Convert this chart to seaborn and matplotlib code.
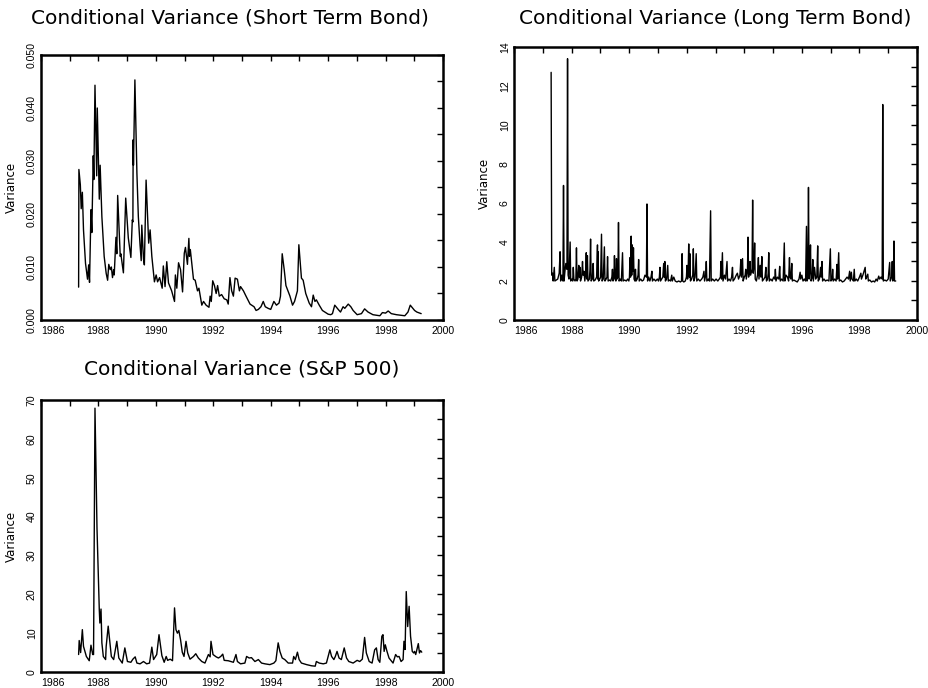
import matplotlib
matplotlib.use("Agg")
import matplotlib.pyplot as plt
from matplotlib.ticker import MultipleLocator, FormatStrFormatter
import seaborn as sns
import pandas as pd

# ---------------- data ----------------
st_years = [
    1987.31, 1987.32, 1987.37, 1987.40, 1987.44, 1987.48, 1987.55, 1987.62, 1987.66, 1987.69,
    1987.74, 1987.77, 1987.82, 1987.84, 1987.88, 1987.94, 1987.96, 1988.03, 1988.06, 1988.12,
    1988.20, 1988.27, 1988.32, 1988.36, 1988.41, 1988.45, 1988.49, 1988.53, 1988.55, 1988.61,
    1988.64, 1988.67, 1988.76, 1988.78, 1988.87, 1988.95, 1989.04, 1989.13, 1989.18, 1989.20,
    1989.21, 1989.22, 1989.27, 1989.34, 1989.39, 1989.45, 1989.49, 1989.51, 1989.57, 1989.60,
    1989.66, 1989.75, 1989.80, 1989.86, 1989.95, 1990.01, 1990.06, 1990.13, 1990.22, 1990.26,
    1990.32, 1990.38, 1990.44, 1990.55, 1990.65, 1990.68, 1990.73, 1990.79, 1990.86, 1990.93,
    1990.99, 1991.03, 1991.10, 1991.15, 1991.17, 1991.20, 1991.31, 1991.37, 1991.45, 1991.50,
    1991.60, 1991.66, 1991.75, 1991.85, 1991.89, 1991.93, 1991.98, 1992.04, 1992.10, 1992.15,
    1992.21, 1992.29, 1992.38, 1992.47, 1992.52, 1992.58, 1992.64, 1992.70, 1992.76, 1992.84,
    1992.91, 1992.95, 1993.05, 1993.14, 1993.28, 1993.42, 1993.49, 1993.57, 1993.66, 1993.74,
    1993.81, 1993.91, 1994.00, 1994.11, 1994.20, 1994.29, 1994.34, 1994.40, 1994.47, 1994.53,
    1994.60, 1994.67, 1994.76, 1994.83, 1994.88, 1994.93, 1994.98, 1995.07, 1995.13, 1995.22,
    1995.34, 1995.42, 1995.48, 1995.54, 1995.59, 1995.69, 1995.80, 1996.00, 1996.09, 1996.15,
    1996.23, 1996.35, 1996.43, 1996.52, 1996.58, 1996.70, 1996.79, 1996.87, 1997.01, 1997.16,
    1997.27, 1997.39, 1997.56, 1997.80, 1997.89, 1998.00, 1998.09, 1998.20, 1998.38, 1998.67,
    1998.78, 1998.86, 1999.01, 1999.09, 1999.24,
]
st_values = [
    0.0062, 0.0284, 0.0255, 0.0210, 0.0241, 0.0170, 0.0107, 0.0077, 0.0104, 0.0071,
    0.0208, 0.0165, 0.0310, 0.0265, 0.0443, 0.0272, 0.0400, 0.0228, 0.0292, 0.0195,
    0.0120, 0.0088, 0.0075, 0.0105, 0.0095, 0.0100, 0.0080, 0.0095, 0.0085, 0.0156,
    0.0125, 0.0235, 0.0120, 0.0125, 0.0089, 0.0230, 0.0155, 0.0118, 0.0189, 0.0185,
    0.0340, 0.0292, 0.0453, 0.0277, 0.0195, 0.0141, 0.0112, 0.0179, 0.0115, 0.0104,
    0.0264, 0.0145, 0.0170, 0.0120, 0.0072, 0.0085, 0.0072, 0.0080, 0.0060, 0.0102,
    0.0063, 0.0110, 0.0070, 0.0055, 0.0035, 0.0085, 0.0060, 0.0108, 0.0095, 0.0053,
    0.0126, 0.0137, 0.0105, 0.0154, 0.0120, 0.0133, 0.0077, 0.0075, 0.0055, 0.0060,
    0.0028, 0.0035, 0.0028, 0.0024, 0.0045, 0.0035, 0.0074, 0.0065, 0.0050, 0.0065,
    0.0045, 0.0048, 0.0040, 0.0038, 0.0030, 0.0080, 0.0055, 0.0045, 0.0079, 0.0077,
    0.0055, 0.0063, 0.0055, 0.0045, 0.0030, 0.0025, 0.0018, 0.0020, 0.0025, 0.0035,
    0.0025, 0.0022, 0.0020, 0.0035, 0.0028, 0.0032, 0.0045, 0.0125, 0.0095, 0.0065,
    0.0055, 0.0045, 0.0028, 0.0035, 0.0045, 0.0055, 0.0142, 0.0079, 0.0075, 0.0050,
    0.0032, 0.0025, 0.0047, 0.0035, 0.0038, 0.0028, 0.0018, 0.0011, 0.0010, 0.0012,
    0.0028, 0.0020, 0.0015, 0.0025, 0.0022, 0.0030, 0.0025, 0.0018, 0.0010, 0.0012,
    0.0021, 0.0015, 0.0010, 0.0008, 0.0014, 0.0013, 0.0017, 0.0012, 0.0010, 0.0008,
    0.0015, 0.0028, 0.0018, 0.0015, 0.0012,
]

lt_years = [
    1987.29, 1987.31, 1987.34, 1987.36, 1987.40, 1987.42, 1987.47, 1987.52, 1987.57, 1987.60,
    1987.62, 1987.66, 1987.70, 1987.72, 1987.74, 1987.77, 1987.80, 1987.84, 1987.86, 1987.88,
    1987.91, 1987.95, 1987.97, 1988.01, 1988.04, 1988.06, 1988.08, 1988.12, 1988.15, 1988.17,
    1988.19, 1988.22, 1988.25, 1988.27, 1988.29, 1988.31, 1988.35, 1988.38, 1988.40, 1988.43,
    1988.46, 1988.49, 1988.51, 1988.53, 1988.55, 1988.57, 1988.62, 1988.64, 1988.66, 1988.68,
    1988.72, 1988.75, 1988.77, 1988.82, 1988.87, 1988.90, 1988.91, 1988.92, 1988.94, 1988.98,
    1989.01, 1989.04, 1989.06, 1989.10, 1989.14, 1989.16, 1989.20, 1989.23, 1989.25, 1989.27,
    1989.32, 1989.36, 1989.40, 1989.42, 1989.44, 1989.47, 1989.49, 1989.51, 1989.54, 1989.56,
    1989.58, 1989.61, 1989.63, 1989.65, 1989.69, 1989.73, 1989.77, 1989.79, 1989.84, 1989.90,
    1989.95, 1989.99, 1990.01, 1990.03, 1990.05, 1990.07, 1990.09, 1990.11, 1990.13, 1990.15,
    1990.17, 1990.20, 1990.22, 1990.24, 1990.28, 1990.31, 1990.33, 1990.35, 1990.40, 1990.45,
    1990.50, 1990.55, 1990.60, 1990.62, 1990.64, 1990.68, 1990.72, 1990.76, 1990.79, 1990.81,
    1990.86, 1990.92, 1990.98, 1991.02, 1991.05, 1991.07, 1991.09, 1991.13, 1991.17, 1991.20,
    1991.22, 1991.24, 1991.26, 1991.30, 1991.34, 1991.36, 1991.40, 1991.44, 1991.48, 1991.50,
    1991.55, 1991.60, 1991.66, 1991.72, 1991.78, 1991.82, 1991.84, 1991.86, 1991.90, 1991.95,
    1991.99, 1992.01, 1992.03, 1992.05, 1992.07, 1992.09, 1992.11, 1992.13, 1992.17, 1992.21,
    1992.23, 1992.25, 1992.29, 1992.33, 1992.35, 1992.40, 1992.46, 1992.52, 1992.56, 1992.60,
    1992.62, 1992.66, 1992.68, 1992.70, 1992.75, 1992.79, 1992.83, 1992.85, 1992.90, 1992.96,
    1993.02, 1993.08, 1993.13, 1993.17, 1993.19, 1993.21, 1993.24, 1993.26, 1993.31, 1993.35,
    1993.40, 1993.42, 1993.47, 1993.52, 1993.56, 1993.59, 1993.61, 1993.66, 1993.72, 1993.76,
    1993.80, 1993.85, 1993.88, 1993.90, 1993.94, 1993.96, 1994.00, 1994.03, 1994.05, 1994.07,
    1994.11, 1994.13, 1994.15, 1994.18, 1994.20, 1994.22, 1994.27, 1994.29, 1994.31, 1994.34,
    1994.36, 1994.38, 1994.42, 1994.46, 1994.49, 1994.51, 1994.55, 1994.58, 1994.61, 1994.63,
    1994.68, 1994.72, 1994.75, 1994.77, 1994.81, 1994.83, 1994.85, 1994.87, 1994.92, 1994.97,
    1995.02, 1995.06, 1995.08, 1995.10, 1995.15, 1995.20, 1995.23, 1995.25, 1995.30, 1995.35,
    1995.39, 1995.41, 1995.45, 1995.50, 1995.54, 1995.57, 1995.59, 1995.62, 1995.65, 1995.67,
    1995.72, 1995.78, 1995.84, 1995.90, 1995.94, 1995.96, 1996.00, 1996.04, 1996.09, 1996.13,
    1996.16, 1996.18, 1996.21, 1996.23, 1996.25, 1996.28, 1996.30, 1996.32, 1996.36, 1996.38,
    1996.40, 1996.44, 1996.48, 1996.52, 1996.55, 1996.57, 1996.61, 1996.65, 1996.67, 1996.70,
    1996.72, 1996.77, 1996.82, 1996.88, 1996.94, 1996.99, 1997.01, 1997.05, 1997.07, 1997.09,
    1997.14, 1997.19, 1997.22, 1997.24, 1997.28, 1997.30, 1997.35, 1997.41, 1997.47, 1997.52,
    1997.57, 1997.62, 1997.66, 1997.68, 1997.72, 1997.74, 1997.79, 1997.82, 1997.84, 1997.89,
    1997.94, 1998.00, 1998.05, 1998.07, 1998.12, 1998.16, 1998.20, 1998.22, 1998.25, 1998.29,
    1998.31, 1998.36, 1998.42, 1998.48, 1998.53, 1998.58, 1998.62, 1998.67, 1998.70, 1998.75,
    1998.79, 1998.81, 1998.83, 1998.88, 1998.94, 1999.00, 1999.05, 1999.07, 1999.12, 1999.14,
    1999.16, 1999.18, 1999.20, 1999.22, 1999.26,
]
lt_values = [
    12.7, 2.3, 2.4, 2.0, 2.7, 2.0, 2.05, 2.1, 2.4, 3.5,
    2.0, 2.3, 2.0, 6.9, 2.0, 2.5, 2.9, 2.6, 13.4, 2.3,
    2.1, 4.0, 2.0, 2.1, 2.0, 2.7, 2.1, 2.0, 2.1, 3.7,
    2.0, 2.1, 2.8, 2.2, 2.7, 2.0, 2.2, 3.0, 2.3, 2.5,
    2.0, 2.4, 3.45, 2.1, 3.3, 2.0, 2.1, 2.6, 4.15, 2.0,
    2.1, 2.9, 2.0, 2.05, 2.2, 3.85, 2.1, 3.5, 2.0, 2.1,
    2.2, 4.4, 2.0, 2.1, 3.75, 2.0, 2.1, 2.2, 3.25, 2.0,
    2.05, 2.0, 2.2, 2.6, 2.0, 2.2, 3.3, 2.1, 2.0, 3.15,
    2.1, 2.2, 5.0, 2.0, 2.1, 2.0, 3.45, 2.0, 2.05, 2.0,
    2.1, 2.0, 2.2, 3.2, 2.2, 4.3, 2.3, 3.85, 2.5, 3.7,
    2.1, 2.0, 2.6, 2.0, 2.1, 2.3, 3.1, 2.0, 2.1, 2.0,
    2.05, 2.3, 2.2, 5.95, 2.0, 2.2, 2.0, 2.2, 2.5, 2.0,
    2.1, 2.0, 2.1, 2.0, 2.2, 2.7, 2.0, 2.1, 2.2, 2.9,
    2.2, 3.0, 2.0, 2.1, 2.8, 2.0, 2.05, 2.0, 2.3, 2.0,
    2.2, 2.0, 1.95, 2.0, 1.95, 2.0, 3.4, 2.0, 1.95, 2.0,
    2.2, 2.8, 2.1, 2.5, 3.9, 2.2, 3.4, 2.0, 2.1, 2.3,
    3.65, 2.0, 2.2, 3.4, 2.0, 2.1, 2.0, 2.1, 2.2, 2.5,
    2.0, 2.3, 3.0, 2.0, 2.1, 2.0, 5.6, 2.0, 2.1, 2.0,
    2.1, 2.0, 2.1, 2.2, 3.0, 2.1, 3.45, 2.0, 2.3, 2.1,
    3.0, 2.0, 2.1, 2.0, 2.2, 2.7, 2.0, 2.1, 2.3, 2.4,
    2.1, 2.3, 3.1, 2.2, 3.15, 2.0, 2.2, 2.3, 2.6, 2.1,
    2.5, 4.25, 2.2, 2.5, 3.0, 2.3, 2.6, 6.15, 2.4, 2.8,
    3.95, 2.1, 2.0, 2.3, 3.2, 2.1, 2.8, 2.2, 3.25, 2.0,
    2.1, 2.2, 2.7, 2.0, 2.1, 2.4, 3.45, 2.0, 2.1, 2.0,
    2.2, 2.1, 2.6, 2.0, 2.2, 2.1, 2.75, 2.0, 2.1, 2.0,
    3.95, 2.0, 2.3, 2.2, 2.0, 3.2, 2.2, 2.1, 2.9, 2.0,
    2.05, 2.0, 1.95, 2.1, 2.45, 2.1, 2.3, 2.0, 2.1, 2.0,
    4.8, 2.0, 2.3, 6.8, 2.1, 2.6, 3.85, 2.0, 2.2, 3.1,
    2.0, 2.7, 2.1, 2.2, 3.8, 2.0, 2.1, 2.7, 2.2, 3.0,
    2.0, 2.1, 2.0, 2.05, 2.0, 3.65, 2.0, 2.1, 2.6, 2.0,
    2.1, 2.0, 2.85, 2.1, 3.45, 2.0, 2.05, 1.95, 2.0, 2.1,
    2.2, 2.1, 2.5, 2.0, 2.45, 2.1, 2.0, 2.6, 2.0, 2.1,
    2.0, 2.2, 2.4, 2.1, 2.3, 2.5, 2.7, 2.1, 2.2, 2.35,
    2.0, 2.05, 1.95, 2.0, 1.95, 2.1, 2.0, 2.25, 2.1, 2.2,
    2.1, 11.05, 2.0, 2.05, 2.0, 2.1, 2.95, 2.0, 2.2, 3.0,
    2.0, 2.2, 4.05, 2.0, 2.0,
]

sp_years = [
    1987.31, 1987.33, 1987.38, 1987.44, 1987.48, 1987.58, 1987.68, 1987.74, 1987.80, 1987.83,
    1987.88, 1987.95, 1988.03, 1988.05, 1988.09, 1988.12, 1988.17, 1988.25, 1988.27, 1988.34,
    1988.39, 1988.45, 1988.53, 1988.64, 1988.71, 1988.83, 1988.92, 1989.01, 1989.13, 1989.20,
    1989.28, 1989.34, 1989.45, 1989.57, 1989.68, 1989.78, 1989.86, 1989.92, 1990.03, 1990.11,
    1990.21, 1990.29, 1990.36, 1990.41, 1990.50, 1990.58, 1990.65, 1990.70, 1990.75, 1990.80,
    1990.86, 1990.92, 1990.98, 1991.05, 1991.11, 1991.19, 1991.31, 1991.39, 1991.48, 1991.60,
    1991.71, 1991.83, 1991.89, 1991.92, 1991.99, 1992.10, 1992.18, 1992.26, 1992.33, 1992.38,
    1992.52, 1992.70, 1992.79, 1992.84, 1992.95, 1993.10, 1993.16, 1993.25, 1993.33, 1993.45,
    1993.57, 1993.68, 1993.80, 1993.97, 1994.11, 1994.18, 1994.26, 1994.32, 1994.40, 1994.49,
    1994.61, 1994.76, 1994.80, 1994.86, 1994.93, 1994.99, 1995.07, 1995.25, 1995.42, 1995.55,
    1995.59, 1995.69, 1995.83, 1995.94, 1996.06, 1996.12, 1996.20, 1996.25, 1996.31, 1996.38,
    1996.46, 1996.56, 1996.64, 1996.72, 1996.87, 1997.01, 1997.10, 1997.19, 1997.27, 1997.33,
    1997.43, 1997.53, 1997.62, 1997.68, 1997.74, 1997.80, 1997.87, 1997.91, 1997.95, 1997.99,
    1998.05, 1998.12, 1998.26, 1998.35, 1998.41, 1998.47, 1998.54, 1998.61, 1998.64, 1998.68,
    1998.72, 1998.77, 1998.82, 1998.87, 1998.93, 1998.98, 1999.01, 1999.05, 1999.09, 1999.14,
    1999.18, 1999.22, 1999.26,
]
sp_values = [
    4.5, 8.1, 5.0, 10.9, 6.6, 4.0, 2.9, 6.9, 4.5, 4.5,
    67.9, 37.0, 16.0, 12.6, 16.2, 7.5, 4.0, 3.2, 6.6, 11.8,
    8.3, 4.0, 3.2, 7.9, 3.6, 2.3, 6.2, 2.7, 2.5, 3.3,
    3.9, 2.3, 2.1, 2.7, 2.1, 2.3, 6.4, 3.2, 4.5, 9.6,
    4.2, 2.5, 4.0, 3.0, 3.3, 2.9, 16.5, 10.9, 10.0, 10.7,
    8.3, 5.1, 4.0, 7.9, 4.9, 3.3, 4.0, 4.7, 3.6, 2.7,
    2.3, 4.5, 3.9, 7.9, 4.5, 3.9, 3.6, 4.0, 4.6, 3.0,
    2.9, 2.5, 4.5, 2.7, 2.1, 2.3, 4.0, 3.6, 3.7, 2.7,
    3.2, 2.3, 2.1, 1.9, 2.3, 2.9, 7.5, 5.3, 3.6, 3.2,
    2.3, 2.3, 4.0, 3.2, 5.1, 3.2, 2.3, 1.9, 1.6, 1.5,
    2.7, 2.3, 2.1, 2.3, 5.7, 4.0, 3.2, 4.0, 5.3, 3.6,
    3.2, 6.2, 3.6, 2.7, 2.3, 3.0, 2.7, 3.3, 8.9, 4.9,
    2.7, 2.3, 5.7, 6.2, 3.2, 2.5, 9.2, 9.6, 5.3, 7.0,
    5.3, 3.6, 2.3, 4.5, 3.9, 4.0, 2.7, 3.2, 7.9, 5.8,
    20.7, 11.7, 16.9, 9.2, 5.3, 4.9, 5.3, 4.5, 5.8, 7.3,
    4.9, 5.5, 5.1,
]

titles = [
    "Conditional Variance (Short Term Bond)",
    "Conditional Variance (Long Term Bond)",
    "Conditional Variance (S&P 500)",
]
y_label = "Variance"
x_ticks = [1986, 1988, 1990, 1992, 1994, 1996, 1998, 2000]

# ---------------- figure ----------------
sns.set_style("white")
plt.rcParams["font.family"] = ["DejaVu Sans"]
plt.rcParams["text.color"] = "black"
plt.rcParams["axes.labelcolor"] = "black"
plt.rcParams["xtick.color"] = "black"
plt.rcParams["ytick.color"] = "black"

fig = plt.figure(figsize=(9.29, 6.88), dpi=100)
W, H = 929.0, 688.0

def make_ax(l, r, t, b):
    return fig.add_axes([l / W, 1 - b / H, (r - l) / W, (b - t) / H])

ax1 = make_ax(41, 443, 55, 320)
ax2 = make_ax(514, 917, 47, 320)
ax3 = make_ax(41, 443, 400, 672)

series = [
    (ax1, st_years, st_values, (0, 0.05), 0.010, 0.005, "%.3f"),
    (ax2, lt_years, lt_values, (0, 14), 2, 1, "%d"),
    (ax3, sp_years, sp_values, (0, 70), 10, 5, "%d"),
]

tick_font = dict(family="Liberation Sans", size=7.6)

for ax, xs, ys, ylim, ymaj, ymin, fmt in series:
    df = pd.DataFrame({"year": xs, "var": ys})
    sns.lineplot(data=df, x="year", y="var", ax=ax, color="black",
                 linewidth=1.0, estimator=None, sort=False)
    ax.set_xlim(1986, 2000)
    ax.set_ylim(*ylim)
    ax.set_xticks(x_ticks)
    ax.set_xticklabels([str(v) for v in x_ticks], fontdict=tick_font)
    ax.xaxis.set_minor_locator(MultipleLocator(1))
    ax.yaxis.set_major_locator(MultipleLocator(ymaj))
    ax.yaxis.set_minor_locator(MultipleLocator(ymin))
    ax.yaxis.set_major_formatter(FormatStrFormatter(fmt))
    ax.tick_params(which="both", direction="in", top=True, right=True,
                   length=4, width=1.0, color="black")
    ax.tick_params(axis="x", which="major", pad=4.3)
    ax.tick_params(axis="y", which="major", pad=3, labelrotation=90)
    for sp in ax.spines.values():
        sp.set_linewidth(1.8)
        sp.set_color("black")
    ax.set_xlabel("")
    ax.set_ylabel(y_label, fontsize=8.5)
    ax.yaxis.set_label_coords(-0.057, 0.5)

fig.canvas.draw()
for ax in (ax1, ax2, ax3):
    for lab in ax.get_yticklabels():
        lab.set_fontfamily("Liberation Sans")
        lab.set_fontsize(7.6)
        lab.set_va("center")
    xl = ax.get_xticklabels()
    xl[0].set_ha("left")

fig.text(230 / W, 1 - 18 / H, titles[0], ha="center", va="center", fontsize=14.5)
fig.text(715 / W, 1 - 18 / H, titles[1], ha="center", va="center", fontsize=14.5)
fig.text(242 / W, 1 - 369 / H, titles[2], ha="center", va="center", fontsize=14.5)

fig.savefig("out.png", dpi=100)
